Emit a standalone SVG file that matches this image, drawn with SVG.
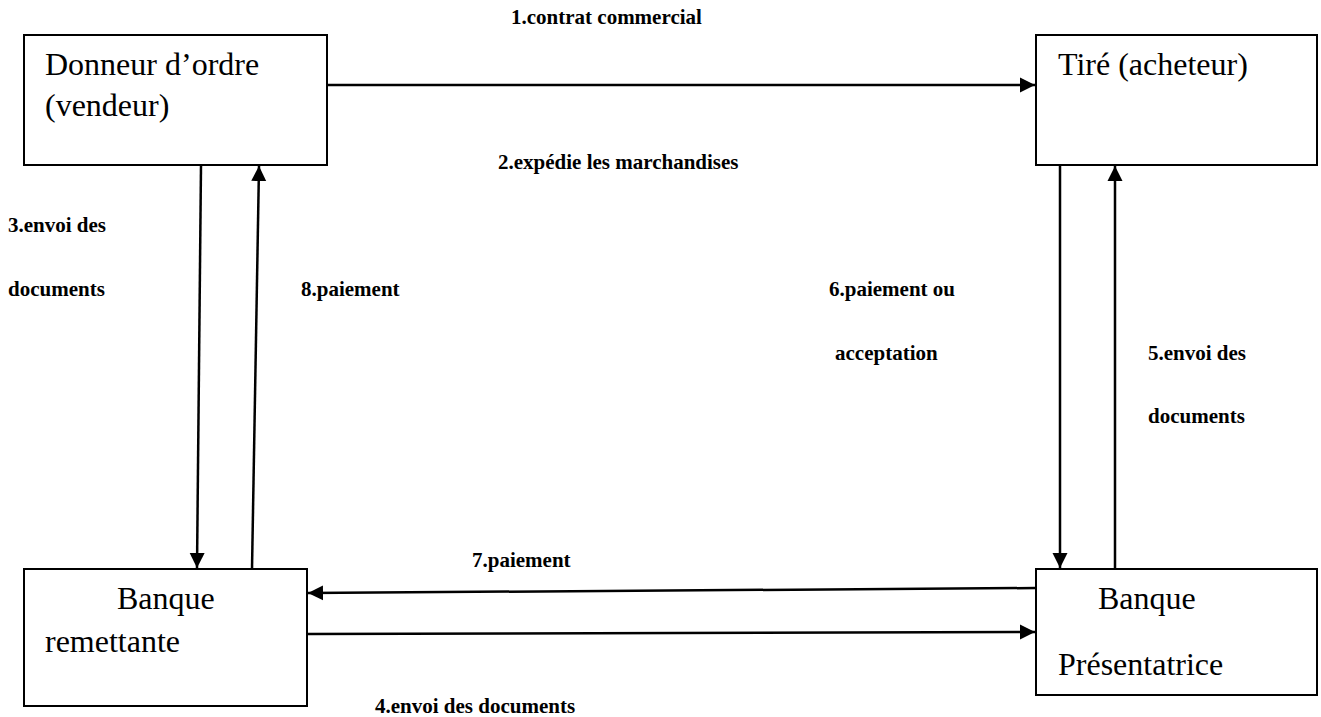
<svg xmlns="http://www.w3.org/2000/svg" width="1321" height="717" viewBox="0 0 1321 717">
<style>
.box{fill:#fff;stroke:#000;stroke-width:2}
.nt{font-family:"Liberation Serif","Times New Roman",serif;font-size:32px;fill:#000}
.lb{font-family:"Liberation Serif","Times New Roman",serif;font-size:21px;font-weight:bold;fill:#000}
.cn{stroke:#000;stroke-width:2.5;fill:none;marker-end:url(#ah)}
</style>
<defs>
<marker id="ah" markerUnits="userSpaceOnUse" markerWidth="16" markerHeight="16" viewBox="0 0 16 16" refX="15" refY="8" orient="auto">
<path d="M0,0.5 L15,8 L0,15.5 Z" fill="#000"/>
</marker>
</defs>
<rect width="1321" height="717" fill="#fff"/>
<g id="connectors">
<line class="cn" x1="327" y1="85" x2="1035" y2="85"/>
<line class="cn" x1="201" y1="165" x2="197" y2="568"/>
<line class="cn" x1="252" y1="569" x2="259" y2="166"/>
<line class="cn" x1="1060" y1="165" x2="1060" y2="568"/>
<line class="cn" x1="1115" y1="569" x2="1115" y2="166"/>
<line class="cn" x1="1036" y1="588" x2="308" y2="593"/>
<line class="cn" x1="307" y1="634" x2="1035" y2="632"/>
</g>
<g id="labels">
<text class="lb" x="511" y="24">1.contrat commercial</text>
<text class="lb" x="498" y="169">2.expédie les marchandises</text>
<text class="lb" x="8" y="232">3.envoi des</text>
<text class="lb" x="8" y="296">documents</text>
<text class="lb" x="301" y="296">8.paiement</text>
<text class="lb" x="829" y="296">6.paiement ou</text>
<text class="lb" x="835" y="360">acceptation</text>
<text class="lb" x="1148" y="360">5.envoi des</text>
<text class="lb" x="1148" y="423">documents</text>
<text class="lb" x="472" y="567">7.paiement</text>
<text class="lb" x="375" y="713">4.envoi des documents</text>
</g>
<g id="node-donneur">
<rect class="box" x="24" y="35" width="303" height="130"/>
<text class="nt" x="45" y="75">Donneur d’ordre</text>
<text class="nt" x="45" y="116">(vendeur)</text>
</g>
<g id="node-tire">
<rect class="box" x="1036" y="35" width="281" height="130"/>
<text class="nt" x="1058" y="75">Tiré (acheteur)</text>
</g>
<g id="node-remettante">
<rect class="box" x="24" y="569" width="283" height="137"/>
<text class="nt" x="117" y="609">Banque</text>
<text class="nt" x="45" y="652">remettante</text>
</g>
<g id="node-presentatrice">
<rect class="box" x="1036" y="569" width="281" height="126"/>
<text class="nt" x="1098" y="609">Banque</text>
<text class="nt" x="1058" y="675">Présentatrice</text>
</g>
</svg>
